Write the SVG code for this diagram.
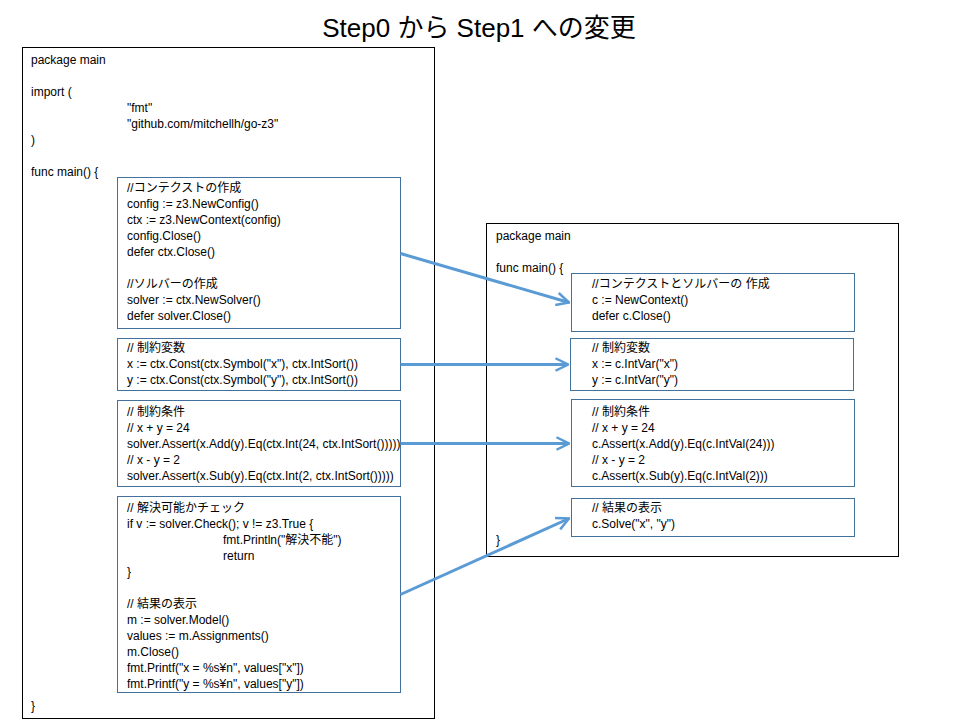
<svg xmlns="http://www.w3.org/2000/svg" width="960" height="720" viewBox="0 0 960 720">
<defs>
<style>
text{font-family:"Liberation Sans","Noto Sans CJK JP",sans-serif;font-size:12px;fill:#000}
.title{font-size:26px}
.outer{fill:#fff;stroke:#000;stroke-width:1}
.inner{fill:#fff;stroke:#41719C;stroke-width:1}
.conn{stroke:#5B9BD5;stroke-width:3;fill:none;marker-end:url(#arr)}
</style>
<marker id="arr" viewBox="0 0 12 12" refX="11" refY="6" markerWidth="5" markerHeight="5" markerUnits="strokeWidth" orient="auto">
<path d="M1,1 L11,6 L1,11" fill="none" stroke="#5B9BD5" stroke-width="2"/>
</marker>
</defs>
<rect width="960" height="720" fill="#fff"/>
<text class="title" x="479" y="37" text-anchor="middle">Step0 から Step1 への変更</text>

<g id="step0">
<rect class="outer" x="22.5" y="47.5" width="412" height="671"/>
<text x="31" y="64">package main</text>
<text x="31" y="96">import (</text>
<text x="127" y="112">"fmt"</text>
<text x="127" y="128">"github.com/mitchellh/go-z3"</text>
<text x="31" y="144">)</text>
<text x="31" y="176">func main() {</text>
<text x="31" y="710">}</text>
</g>

<g id="s0-context">
<rect class="inner" x="117.5" y="177.5" width="283" height="151"/>
<text x="127" y="192">//コンテクストの作成</text>
<text x="127" y="208">config := z3.NewConfig()</text>
<text x="127" y="224">ctx := z3.NewContext(config)</text>
<text x="127" y="240">config.Close()</text>
<text x="127" y="256">defer ctx.Close()</text>
<text x="127" y="288">//ソルバーの作成</text>
<text x="127" y="304">solver := ctx.NewSolver()</text>
<text x="127" y="320">defer solver.Close()</text>
</g>

<g id="s0-vars">
<rect class="inner" x="117.5" y="338.5" width="283" height="52"/>
<text x="127" y="352">// 制約変数</text>
<text x="127" y="368">x := ctx.Const(ctx.Symbol("x"), ctx.IntSort())</text>
<text x="127" y="384">y := ctx.Const(ctx.Symbol("y"), ctx.IntSort())</text>
</g>

<g id="s0-cond">
<rect class="inner" x="117.5" y="400.5" width="283" height="86"/>
<text x="127" y="416">// 制約条件</text>
<text x="127" y="432">// x + y = 24</text>
<text x="127" y="448">solver.Assert(x.Add(y).Eq(ctx.Int(24, ctx.IntSort()))))</text>
<text x="127" y="464">// x - y = 2</text>
<text x="127" y="480">solver.Assert(x.Sub(y).Eq(ctx.Int(2, ctx.IntSort()))))</text>
</g>

<g id="s0-result">
<rect class="inner" x="117.5" y="496.5" width="283" height="196"/>
<text x="127" y="512">// 解決可能かチェック</text>
<text x="127" y="528">if v := solver.Check(); v != z3.True {</text>
<text x="223" y="544">fmt.Println("解決不能")</text>
<text x="223" y="560">return</text>
<text x="127" y="576">}</text>
<text x="127" y="608">// 結果の表示</text>
<text x="127" y="624">m := solver.Model()</text>
<text x="127" y="640">values := m.Assignments()</text>
<text x="127" y="656">m.Close()</text>
<text x="127" y="672">fmt.Printf("x = %s¥n", values["x"])</text>
<text x="127" y="688">fmt.Printf("y = %s¥n", values["y"])</text>
</g>

<g id="step1">
<rect class="outer" x="486.5" y="223.5" width="412" height="333"/>
<text x="496" y="240">package main</text>
<text x="496" y="272">func main() {</text>
<text x="496" y="544">}</text>
</g>

<g id="s1-context">
<rect class="inner" x="571.5" y="273.5" width="283" height="58"/>
<text x="592" y="288">//コンテクストとソルバーの 作成</text>
<text x="592" y="304">c := NewContext()</text>
<text x="592" y="320">defer c.Close()</text>
</g>

<g id="s1-vars">
<rect class="inner" x="570.5" y="338.5" width="283" height="52"/>
<text x="592" y="352">// 制約変数</text>
<text x="592" y="368">x := c.IntVar("x")</text>
<text x="592" y="384">y := c.IntVar("y")</text>
</g>

<g id="s1-cond">
<rect class="inner" x="571.5" y="399.5" width="283" height="87"/>
<text x="592" y="416">// 制約条件</text>
<text x="592" y="432">// x + y = 24</text>
<text x="592" y="448">c.Assert(x.Add(y).Eq(c.IntVal(24)))</text>
<text x="592" y="464">// x - y = 2</text>
<text x="592" y="480">c.Assert(x.Sub(y).Eq(c.IntVal(2)))</text>
</g>

<g id="s1-result">
<rect class="inner" x="571.5" y="498.5" width="283" height="38"/>
<text x="592" y="512">// 結果の表示</text>
<text x="592" y="528">c.Solve("x", "y")</text>
</g>

<g id="connectors">
<line class="conn" x1="400.5" y1="253.5" x2="569" y2="302.5"/>
<line class="conn" x1="400.5" y1="364.5" x2="568" y2="364.5"/>
<line class="conn" x1="400.5" y1="443.5" x2="569" y2="443.5"/>
<line class="conn" x1="400.5" y1="594.5" x2="569" y2="518.5"/>
</g>
</svg>
